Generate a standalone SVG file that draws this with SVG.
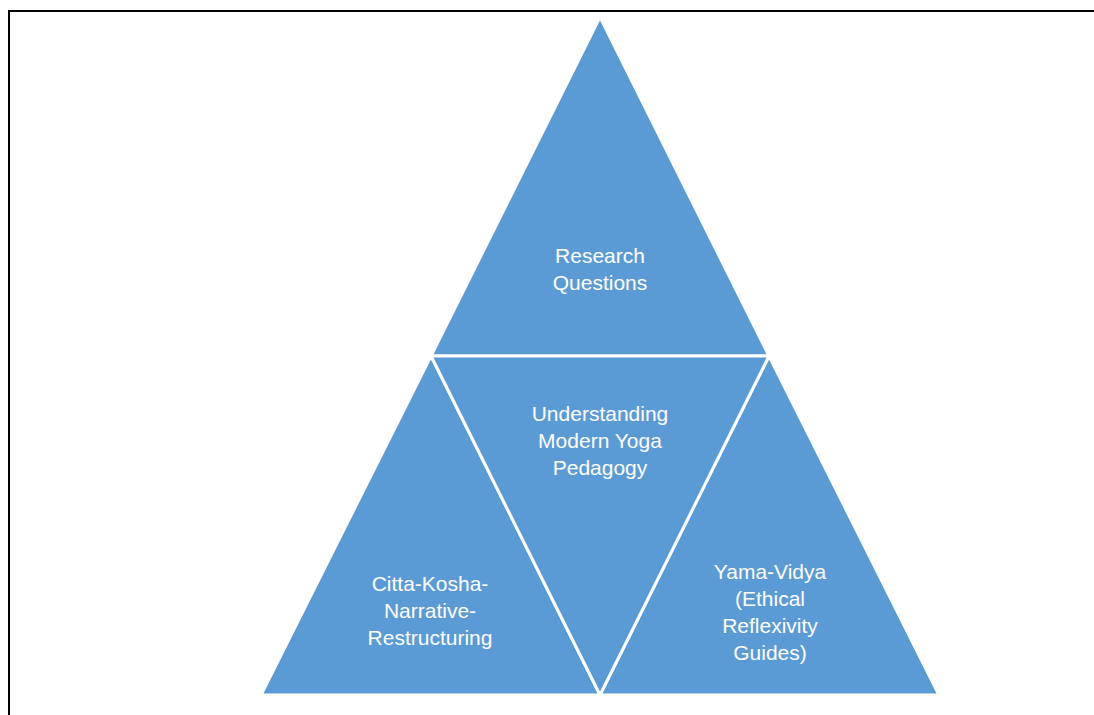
<svg xmlns="http://www.w3.org/2000/svg" width="1094" height="715" viewBox="0 0 1094 715">
<style>
.tri{fill:#5B9BD5;stroke:#FFFFFF;stroke-width:3;stroke-linejoin:miter}
.lbl{font-family:"Liberation Sans",Arial,sans-serif;font-size:21px;fill:#FFFFFF;text-anchor:middle}
.frame{fill:none;stroke:#000000;stroke-width:2}
</style>
<rect width="1094" height="715" fill="#FFFFFF"/>
<path class="frame" d="M9 715 V11 H1094"/>
<g id="connectors"></g>
<g id="top">
<polygon class="tri" points="600,17 431,356 769,356"/>
<text class="lbl" x="600" y="263">Research</text>
<text class="lbl" x="600" y="290">Questions</text>
</g>
<g id="left">
<polygon class="tri" points="431,356 261,695 600,695"/>
<text class="lbl" x="430" y="591">Citta-Kosha-</text>
<text class="lbl" x="430" y="618">Narrative-</text>
<text class="lbl" x="430" y="645">Restructuring</text>
</g>
<g id="right">
<polygon class="tri" points="769,356 600,695 939,695"/>
<text class="lbl" x="770" y="579">Yama-Vidya</text>
<text class="lbl" x="770" y="606">(Ethical</text>
<text class="lbl" x="770" y="633">Reflexivity</text>
<text class="lbl" x="770" y="660">Guides)</text>
</g>
<g id="center">
<polygon class="tri" points="431,356 769,356 600,695"/>
<text class="lbl" x="600" y="421">Understanding</text>
<text class="lbl" x="600" y="448">Modern Yoga</text>
<text class="lbl" x="600" y="475">Pedagogy</text>
</g>
</svg>
